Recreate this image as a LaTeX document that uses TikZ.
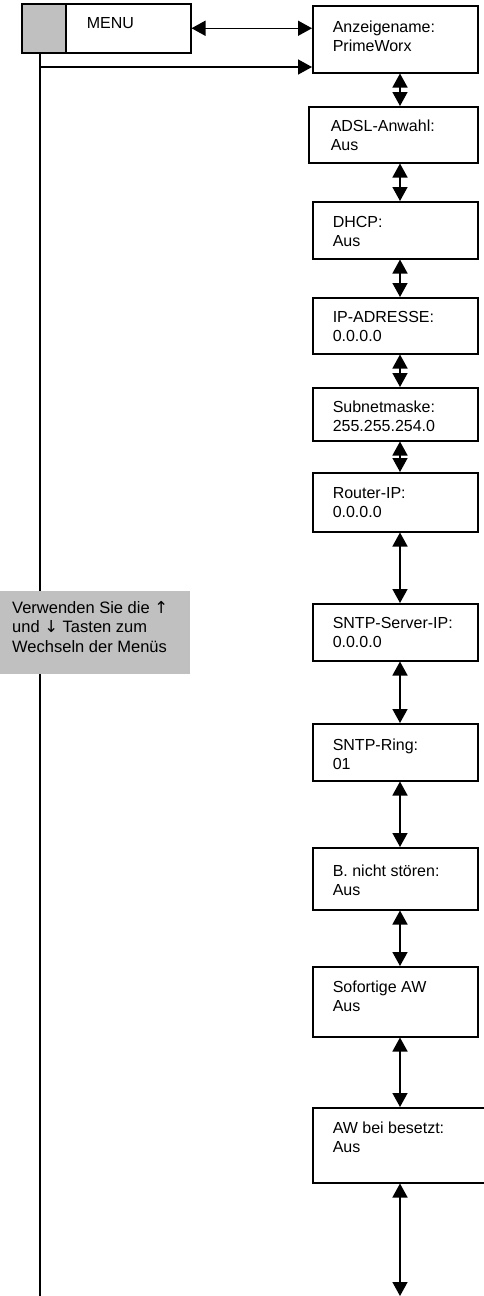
\documentclass[tikz,border=0pt]{standalone}
\usepackage{fontspec}
\setmainfont{Liberation Sans}
\newfontfamily\symfont{DejaVu Sans}
\usetikzlibrary{arrows.meta}
\definecolor{greyfill}{HTML}{C0C0C0}
\newcommand{\bxfont}{\fontsize{16}{18.5}\selectfont}
% #1 height, #2 width, #3 first baseline below top, #4 left inset, #5 text
\newcommand{\bxt}[5]{\parbox[c][#1pt][t]{#2pt}{\bxfont\vspace*{\dimexpr#3pt-\ht\strutbox\relax}\leftskip=#4pt\noindent\strut#5}}
\begin{document}
\begin{tikzpicture}[x=1pt,y=-1pt,
  box/.style={draw, line width=1.5pt, inner sep=0pt, anchor=north west, fill=white},
  conn/.style={line width=1.5pt},
  dbl/.style={conn, {Triangle[length=14pt,width=15pt]}-{Triangle[length=14pt,width=15pt]}},
  sgl/.style={conn, -{Triangle[length=14pt,width=15pt]}}]
\useasboundingbox (0,0) rectangle (483,1296);
\coordinate (lx) at (40,0);
\coordinate (lbot) at (40,1296);
\coordinate (tee) at (40,67);
\coordinate (ax) at (400,0);
\coordinate (aend) at (400,1296);

\node[box, fill=greyfill, minimum width=44pt, minimum height=49pt] (menugrey) at (21,3) {};
\node[box] (menu) at (65,3) {\bxt{49}{125}{25}{21}{MENU}};

\node[box] (anz) at (312,5) {\bxt{67}{165}{27}{20}{Anzeigename:\\PrimeWorx}};
\node[box] (adsl) at (308,106) {\bxt{56}{169}{25}{22}{ADSL-Anwahl:\\Aus}};
\node[box] (dhcp) at (312,201) {\bxt{57}{165}{26}{20}{DHCP:\\Aus}};
\node[box] (ip) at (312,297) {\bxt{56}{165}{25}{20}{IP-ADRESSE:\\0.0.0.0}};
\node[box] (subnet) at (312,387) {\bxt{53}{165}{25}{20}{Subnetmaske:\\255.255.254.0}};
\node[box] (router) at (312,472) {\bxt{59}{165}{26}{20}{Router-IP:\\0.0.0.0}};
\node[box] (sntps) at (312,603) {\bxt{57}{165}{25}{20}{SNTP-Server-IP:\\0.0.0.0}};
\node[box] (ring) at (312,723) {\bxt{57}{165}{27}{20}{SNTP-Ring:\\01}};
\node[box] (dnd) at (312,847) {\bxt{62}{165}{29}{20}{B. nicht stören:\\Aus}};
\node[box] (sofort) at (312,966) {\bxt{70}{165}{26}{20}{Sofortige AW\\Aus}};
\node[box] (busy) at (312,1107) {\bxt{75}{180}{26}{20}{AW bei besetzt:\\Aus}};

\draw[conn] (menugrey.south -| lx) -- (lbot);
\draw[dbl] (menu.east) -- (anz.west |- menu.east);
\draw[sgl] (tee) -- (anz.west |- tee);

\draw[dbl] (anz.south -| ax) -- (adsl.north -| ax);
\draw[dbl] (adsl.south -| ax) -- (dhcp.north -| ax);
\draw[dbl] (dhcp.south -| ax) -- (ip.north -| ax);
\draw[dbl] (ip.south -| ax) -- (subnet.north -| ax);
\draw[dbl] (subnet.south -| ax) -- (router.north -| ax);
\draw[dbl] (router.south -| ax) -- (sntps.north -| ax);
\draw[dbl] (sntps.south -| ax) -- (ring.north -| ax);
\draw[dbl] (ring.south -| ax) -- (dnd.north -| ax);
\draw[dbl] (dnd.south -| ax) -- (sofort.north -| ax);
\draw[dbl] (sofort.south -| ax) -- (busy.north -| ax);
\draw[dbl] (busy.south -| ax) -- (aend);

\node[anchor=north west, fill=greyfill, inner sep=0pt] (note) at (0,591)
  {\renewcommand{\bxfont}{\fontsize{16.5}{19.5}\selectfont}\bxt{83}{190}{22}{12}{Verwenden Sie die {\symfont ↑}\\und {\symfont ↓} Tasten zum\\Wechseln der Menüs}};
\end{tikzpicture}
\end{document}
